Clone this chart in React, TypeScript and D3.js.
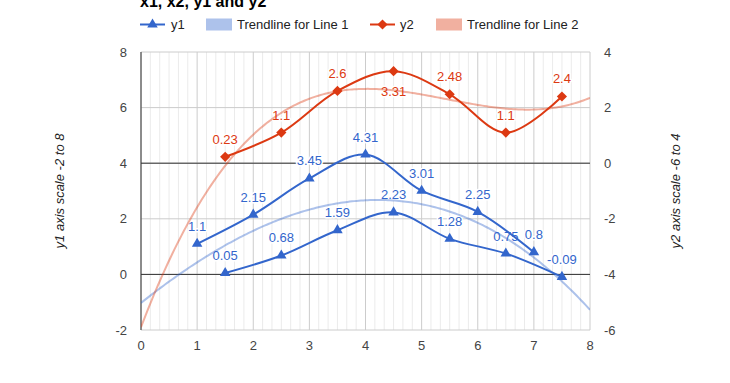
import React from 'react';
import * as d3 from 'd3';

const TITLE = 'x1, x2, y1 and y2';
const X_INT = [1, 2, 3, 4, 5, 6, 7];
const Y1_INT = [1.1, 2.15, 3.45, 4.31, 3.01, 2.25, 0.8];
const X_HALF = [1.5, 2.5, 3.5, 4.5, 5.5, 6.5, 7.5];
const Y1_HALF = [0.05, 0.68, 1.59, 2.23, 1.28, 0.75, -0.09];
const Y2 = [0.23, 1.1, 2.6, 3.31, 2.48, 1.1, 2.4];
const X_TICKS = [0, 1, 2, 3, 4, 5, 6, 7, 8];
const Y1_TICKS = [-2, 0, 2, 4, 6, 8];
const Y2_TICKS = [-6, -4, -2, 0, 2, 4];
const LEGEND_LABELS = ['y1', 'Trendline for Line 1', 'y2', 'Trendline for Line 2'];
const Y1_TITLE = 'y1 axis scale -2 to 8';
const Y2_TITLE = 'y2 axis scale -6 to 4';
const TREND_DEGREE = 3;

const BLUE = '#3366cc';
const RED = '#dc3912';
const FONT = 'Arial, "Liberation Sans", sans-serif';

function polyfit(xs: number[], ys: number[], deg: number): number[] {
  const n = deg + 1;
  const A: number[][] = [];
  for (let i = 0; i < n; i++) {
    A.push(new Array(n + 1).fill(0));
  }
  for (let k = 0; k < xs.length; k++) {
    for (let i = 0; i < n; i++) {
      for (let j = 0; j < n; j++) A[i][j] += Math.pow(xs[k], i + j);
      A[i][n] += ys[k] * Math.pow(xs[k], i);
    }
  }
  for (let c = 0; c < n; c++) {
    let p = c;
    for (let r = c + 1; r < n; r++) if (Math.abs(A[r][c]) > Math.abs(A[p][c])) p = r;
    [A[c], A[p]] = [A[p], A[c]];
    for (let r = 0; r < n; r++) {
      if (r === c) continue;
      const f = A[r][c] / A[c][c];
      for (let j = c; j <= n; j++) A[r][j] -= f * A[c][j];
    }
  }
  return A.map((row, i) => row[n] / row[i]);
}
const polyval = (co: number[], x: number) => co.reduce((s, c, i) => s + c * Math.pow(x, i), 0);

export default function App() {
  const L = 141, R = 590, T = 52, B = 330;
  const x = d3.scaleLinear().domain([0, 8]).range([L, R]);
  const y1 = d3.scaleLinear().domain([-2, 8]).range([B, T]);
  const y2 = d3.scaleLinear().domain([-6, 4]).range([B, T]);

  const curve = d3.curveCatmullRom.alpha(0.5);
  const lineY1 = d3.line<[number, number]>().x(d => x(d[0])).y(d => y1(d[1])).curve(curve);
  const lineY2 = d3.line<[number, number]>().x(d => x(d[0])).y(d => y2(d[1])).curve(curve);

  const segA: [number, number][] = X_INT.map((v, i) => [v, Y1_INT[i]]);
  const segB: [number, number][] = X_HALF.map((v, i) => [v, Y1_HALF[i]]);
  const ser2: [number, number][] = X_HALF.map((v, i) => [v, Y2[i]]);

  const allY1X = [...X_INT, ...X_HALF];
  const allY1Y = [...Y1_INT, ...Y1_HALF];
  const co1 = polyfit(allY1X, allY1Y, TREND_DEGREE);
  const co2 = polyfit(X_HALF, Y2, TREND_DEGREE);
  const samples = d3.range(0, 8.0001, 0.04);
  const trend1 = d3.line<number>().x(d => x(d)).y(d => y1(polyval(co1, d)))(samples) || '';
  const trend2 = d3.line<number>().x(d => x(d)).y(d => y2(polyval(co2, d)))(samples) || '';

  const tri = d3.symbol(d3.symbolTriangle, 48)() || '';
  const dia = d3.symbol(d3.symbolSquare, 52)() || '';

  const minorX: number[] = [];
  for (let i = 0; i < 8; i++) for (let k = 1; k < 6; k++) minorX.push(i + k / 6);

  const labelFor = (px: number, py: number, text: string, color: string, key: string) => {
    let by = py - 13;
    if (by - 10 < T) by = py + 25;
    return (
      <text key={key} x={px} y={by} textAnchor="middle" fontSize={13} fontFamily={FONT}
        fill={color} stroke="#fff" strokeWidth={3} strokeLinejoin="round"
        style={{ paintOrder: 'stroke' }}>{text}</text>
    );
  };

  const legendY = 24.5;

  return (
    <svg width={730} height={383} style={{ position: 'absolute', left: 0, top: 0, background: '#fff' }}>
      <defs>
        <clipPath id="plotclip"><rect x={L} y={T} width={R - L} height={B - T} /></clipPath>
      </defs>
      <rect x={0} y={0} width={730} height={383} fill="#fff" />
      {/* title */}
      <text x={140} y={7} fontFamily={FONT} fontSize={16} fontWeight="bold" fill="#000">{TITLE}</text>

      {/* legend */}
      <g fontFamily={FONT} fontSize={13} fill="#222">
        <line x1={140} x2={165} y1={legendY} y2={legendY} stroke={BLUE} strokeWidth={2} />
        <path d={tri} transform={`translate(152.5,${legendY})`} fill={BLUE} />
        <text x={171} y={29}>{LEGEND_LABELS[0]}</text>
        <rect x={206} y={18.5} width={26} height={12} fill={BLUE} fillOpacity={0.4} />
        <text x={237} y={29}>{LEGEND_LABELS[1]}</text>
        <line x1={370} x2={395} y1={legendY} y2={legendY} stroke={RED} strokeWidth={2} />
        <path d={dia} transform={`translate(382.5,${legendY}) rotate(45)`} fill={RED} />
        <text x={400} y={29}>{LEGEND_LABELS[2]}</text>
        <rect x={436} y={18.5} width={26} height={12} fill={RED} fillOpacity={0.4} />
        <text x={467} y={29}>{LEGEND_LABELS[3]}</text>
      </g>

      {/* grid */}
      {minorX.map((v, i) => (
        <line key={'mx' + i} x1={x(v)} x2={x(v)} y1={T} y2={B} stroke="#ebebeb" strokeWidth={1} />
      ))}
      {X_TICKS.map(v => (
        <line key={'gx' + v} x1={x(v)} x2={x(v)} y1={T} y2={B} stroke="#cccccc" strokeWidth={1} />
      ))}
      {Y1_TICKS.map(v => (
        <line key={'gy' + v} x1={L} x2={R} y1={y1(v)} y2={y1(v)} stroke="#cccccc" strokeWidth={1} />
      ))}
      <line x1={L} x2={R} y1={y1(0)} y2={y1(0)} stroke="#333" strokeWidth={1} />
      <line x1={L} x2={R} y1={y2(0)} y2={y2(0)} stroke="#333" strokeWidth={1} />
      <line x1={x(0)} x2={x(0)} y1={T} y2={B} stroke="#333" strokeWidth={1} />

      {/* axis labels */}
      <g fontFamily={FONT} fontSize={13} fill="#444">
        {X_TICKS.map(v => (
          <text key={'tx' + v} x={x(v)} y={350} textAnchor="middle">{v}</text>
        ))}
        {Y1_TICKS.map(v => (
          <text key={'ty1' + v} x={127} y={y1(v) + 4.6} textAnchor="end">{v}</text>
        ))}
        {Y2_TICKS.map(v => (
          <text key={'ty2' + v} x={604} y={y2(v) + 4.6} textAnchor="start">{v}</text>
        ))}
      </g>
      <text transform={`translate(64,${(T + B) / 2}) rotate(-90)`} textAnchor="middle" fontFamily={FONT}
        fontSize={13} fontStyle="italic" fill="#222">{Y1_TITLE}</text>
      <text transform={`translate(680,${(T + B) / 2}) rotate(-90)`} textAnchor="middle" fontFamily={FONT}
        fontSize={13} fontStyle="italic" fill="#222">{Y2_TITLE}</text>

      {/* annotations */}
      {segA.map((d, i) => labelFor(x(d[0]), y1(d[1]), String(d[1]), BLUE, 'la' + i))}
      {segB.map((d, i) => labelFor(x(d[0]), y1(d[1]), String(d[1]), BLUE, 'lb' + i))}
      {ser2.map((d, i) => labelFor(x(d[0]), y2(d[1]), String(d[1]), RED, 'lc' + i))}

      {/* trendlines */}
      <g clipPath="url(#plotclip)">
        <path d={trend1} fill="none" stroke={BLUE} strokeOpacity={0.4} strokeWidth={2} />
        <path d={trend2} fill="none" stroke={RED} strokeOpacity={0.4} strokeWidth={2} />
      </g>

      {/* series */}
      <path d={lineY1(segA) || ''} fill="none" stroke={BLUE} strokeWidth={2} />
      <path d={lineY1(segB) || ''} fill="none" stroke={BLUE} strokeWidth={2} />
      <path d={lineY2(ser2) || ''} fill="none" stroke={RED} strokeWidth={2} />
      {[...segA, ...segB].map((d, i) => (
        <path key={'p1' + i} d={tri} transform={`translate(${x(d[0])},${y1(d[1])})`} fill={BLUE} />
      ))}
      {ser2.map((d, i) => (
        <path key={'p2' + i} d={dia} transform={`translate(${x(d[0])},${y2(d[1])}) rotate(45)`} fill={RED} />
      ))}
    </svg>
  );
}
